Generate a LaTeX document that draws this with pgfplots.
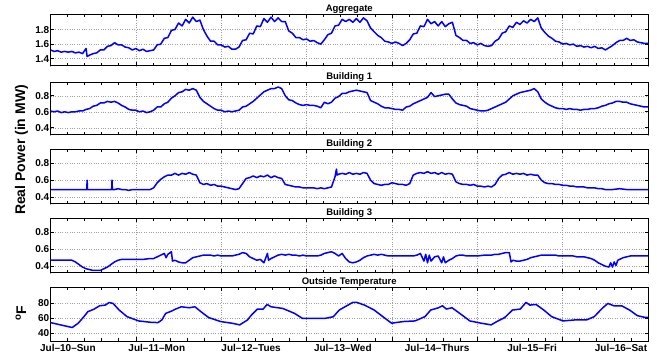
\documentclass[border=0pt]{standalone}
\usepackage{fontspec}
\setmainfont{Liberation Sans}
\usepackage{pgfplots}
\pgfplotsset{compat=1.18}
\pgfplotsset{
  panel/.style={
    scale only axis, width=597.5bp, anchor=south west,
    xmin=0, xmax=168,
    xtick={0,24,...,168}, xticklabels={},
    minor x tick num=4,
    xtick pos=both, ytick pos=both, tick align=inside,
    xticklabel pos=lower, yticklabel pos=left,
    xmajorgrids, ymajorgrids,
    grid style={dotted, gray!75, line width=0.5bp},
    major tick length=3.5bp, minor tick length=2.5bp,
    axis line style={line width=1bp},
    tick style={black, line width=0.6bp},
    tick label style={font=\bfseries\fontsize{10bp}{12bp}\selectfont},
    yticklabel style={inner xsep=1bp},
    title style={font=\bfseries\fontsize{9.5bp}{11bp}\selectfont, anchor=south, inner sep=0pt, yshift=-4.5bp},
    /pgf/number format/assume math mode=true,
  },
  curve/.style={blue, line width=1.5bp, no markers, line join=round},
}
\begin{document}
\begin{tikzpicture}
\useasboundingbox (0,0) rectangle (657bp,355bp);
% Aggregate
\begin{axis}[panel, at={(50.5bp,289bp)}, height=51bp, ymin=1.3, ymax=2.0,
  ytick={1.4,1.6,1.8}, yticklabels={1.4,1.6,1.8}, title={Aggregate}]
\addplot[curve] table[row sep=\\]{h v\\
0 1.52\\1 1.50\\2 1.51\\3 1.49\\4 1.50\\5 1.49\\6 1.50\\7 1.48\\8 1.49\\9 1.47\\10 1.54\\10.3 1.43\\11 1.45\\12 1.47\\13 1.48\\14 1.52\\15 1.52\\16 1.57\\17 1.58\\18 1.62\\19 1.59\\20 1.59\\21 1.56\\22 1.55\\23 1.52\\24 1.54\\25 1.51\\26 1.53\\27 1.50\\28 1.51\\29 1.52\\30 1.59\\31 1.60\\32 1.68\\33 1.69\\34 1.79\\35 1.80\\36 1.89\\37 1.85\\38 1.94\\39 1.89\\40 1.97\\41 1.91\\42 1.93\\43 1.80\\44 1.71\\45 1.64\\46 1.64\\47 1.59\\48 1.59\\49 1.56\\50 1.57\\51 1.53\\52 1.53\\53 1.56\\54 1.65\\55 1.66\\56 1.75\\57 1.74\\58 1.85\\59 1.84\\60 1.95\\61 1.90\\62 1.97\\63 1.91\\64 1.96\\65 1.91\\66 1.91\\67 1.78\\68 1.75\\69 1.69\\70 1.69\\71 1.66\\72 1.67\\73 1.64\\74 1.65\\75 1.62\\76 1.60\\77 1.66\\78 1.73\\79 1.75\\80 1.85\\81 1.86\\82 1.94\\83 1.91\\84 1.94\\85 1.90\\86 1.95\\87 1.90\\88 1.96\\89 1.92\\90 1.82\\91 1.77\\92 1.72\\93 1.69\\94 1.64\\95 1.63\\96 1.61\\97 1.63\\98 1.61\\99 1.58\\100 1.61\\101 1.66\\102 1.74\\103 1.75\\104 1.85\\105 1.84\\106 1.94\\107 1.88\\108 1.91\\109 1.85\\110 1.91\\111 1.84\\112 1.88\\113 1.90\\114 1.72\\115 1.69\\116 1.65\\117 1.65\\118 1.61\\119 1.62\\120 1.59\\121 1.61\\122 1.58\\123 1.57\\124 1.58\\125 1.64\\126 1.67\\127 1.75\\128 1.77\\129 1.85\\130 1.83\\131 1.90\\132 1.87\\133 1.92\\134 1.89\\135 1.94\\136 1.91\\137 1.96\\138 1.82\\139 1.76\\140 1.71\\141 1.68\\142 1.64\\143 1.63\\144 1.60\\145 1.61\\146 1.59\\147 1.60\\148 1.57\\149 1.58\\150 1.56\\151 1.57\\152 1.55\\153 1.57\\154 1.54\\155 1.55\\156 1.52\\157 1.55\\158 1.58\\159 1.62\\160 1.65\\161 1.65\\162 1.68\\163 1.65\\164 1.66\\165 1.63\\166 1.62\\167 1.61\\168 1.61\\
};
\end{axis}
% Building 1
\begin{axis}[panel, at={(50.5bp,220bp)}, height=52bp, ymin=0.31, ymax=0.96,
  ytick={0.4,0.6,0.8}, yticklabels={0.4,0.6,0.8}, title={Building 1}]
\addplot[curve] table[row sep=\\]{h v\\
0 0.61\\1 0.60\\2 0.61\\3 0.59\\4 0.60\\5 0.59\\6 0.60\\7 0.60\\8 0.61\\9 0.61\\10 0.63\\11 0.64\\12 0.67\\13 0.68\\14 0.71\\15 0.71\\16 0.73\\17 0.72\\18 0.73\\19 0.71\\20 0.68\\21 0.66\\22 0.63\\23 0.62\\24 0.62\\25 0.60\\26 0.61\\27 0.59\\28 0.60\\29 0.62\\30 0.66\\31 0.66\\32 0.70\\33 0.72\\34 0.77\\35 0.80\\36 0.84\\37 0.85\\38 0.88\\39 0.87\\40 0.89\\41 0.87\\42 0.78\\43 0.73\\44 0.70\\45 0.67\\46 0.64\\47 0.62\\48 0.62\\49 0.60\\50 0.61\\51 0.60\\52 0.61\\53 0.62\\54 0.66\\55 0.67\\56 0.70\\57 0.73\\58 0.77\\59 0.81\\60 0.85\\61 0.87\\62 0.89\\63 0.89\\64 0.91\\65 0.89\\66 0.80\\67 0.75\\68 0.74\\69 0.71\\70 0.69\\71 0.68\\72 0.69\\73 0.68\\74 0.68\\75 0.67\\76 0.65\\77 0.72\\78 0.70\\79 0.72\\80 0.77\\81 0.79\\82 0.83\\83 0.83\\84 0.85\\85 0.86\\86 0.87\\87 0.86\\88 0.85\\89 0.84\\90 0.74\\91 0.72\\92 0.70\\93 0.67\\94 0.65\\95 0.65\\96 0.64\\97 0.63\\98 0.63\\99 0.62\\100 0.66\\101 0.67\\102 0.70\\103 0.72\\104 0.74\\105 0.76\\106 0.78\\107 0.84\\108 0.79\\109 0.80\\110 0.81\\111 0.82\\112 0.82\\113 0.76\\114 0.71\\115 0.69\\116 0.68\\117 0.67\\118 0.64\\119 0.63\\120 0.62\\121 0.61\\122 0.61\\123 0.62\\124 0.64\\125 0.66\\126 0.68\\127 0.70\\128 0.72\\129 0.76\\130 0.80\\131 0.82\\132 0.84\\133 0.85\\134 0.86\\135 0.87\\136 0.89\\137 0.85\\138 0.76\\139 0.72\\140 0.69\\141 0.67\\142 0.65\\143 0.64\\144 0.64\\145 0.63\\146 0.64\\147 0.63\\148 0.63\\149 0.62\\150 0.63\\151 0.63\\152 0.64\\153 0.64\\154 0.65\\155 0.67\\156 0.68\\157 0.70\\158 0.71\\159 0.73\\160 0.73\\161 0.72\\162 0.72\\163 0.70\\164 0.69\\165 0.68\\166 0.67\\167 0.66\\168 0.66\\
};
\end{axis}
% Building 2
\begin{axis}[panel, at={(50.5bp,151bp)}, height=54bp, ymin=0.32, ymax=0.955,
  ytick={0.4,0.6,0.8}, yticklabels={0.4,0.6,0.8}, title={Building 2}]
\addplot[curve] table[row sep=\\]{h v\\
0 0.49\\2 0.49\\4 0.49\\6 0.49\\8 0.49\\10.2 0.49\\10.3 0.60\\10.4 0.49\\12 0.49\\14 0.49\\17.2 0.49\\17.3 0.60\\17.4 0.49\\18 0.49\\19 0.50\\20 0.49\\21 0.49\\22 0.48\\23 0.49\\24 0.49\\25 0.49\\26 0.49\\27 0.49\\28 0.49\\29 0.51\\30 0.57\\31 0.61\\32 0.64\\33 0.66\\34 0.66\\35 0.68\\36 0.66\\37 0.68\\38 0.67\\39 0.69\\40 0.67\\41 0.66\\42 0.57\\43 0.55\\44 0.56\\45 0.54\\46 0.55\\47 0.53\\48 0.53\\49 0.52\\50 0.51\\51 0.50\\52 0.49\\53 0.50\\54 0.56\\55 0.62\\56 0.63\\57 0.65\\58 0.63\\59 0.65\\60 0.64\\61 0.66\\62 0.63\\63 0.65\\64 0.63\\65 0.62\\66 0.55\\67 0.54\\68 0.53\\69 0.52\\70 0.52\\71 0.51\\72 0.51\\73 0.51\\74 0.51\\75 0.50\\76 0.51\\77 0.50\\78 0.51\\79 0.52\\80 0.64\\80.4 0.73\\80.6 0.66\\81 0.67\\82 0.68\\83 0.67\\84 0.69\\85 0.67\\86 0.68\\87 0.67\\88 0.69\\89 0.68\\90 0.60\\91 0.56\\92 0.55\\93 0.54\\94 0.55\\95 0.55\\96 0.57\\97 0.56\\98 0.55\\99 0.55\\100 0.54\\101 0.56\\102 0.66\\103 0.68\\104 0.69\\105 0.68\\106 0.70\\107 0.68\\108 0.69\\109 0.67\\110 0.69\\111 0.67\\112 0.68\\113 0.67\\114 0.58\\115 0.56\\116 0.55\\117 0.55\\118 0.54\\119 0.55\\120 0.53\\121 0.53\\122 0.52\\123 0.53\\124 0.52\\125 0.55\\126 0.62\\127 0.66\\128 0.67\\129 0.69\\130 0.67\\131 0.68\\132 0.67\\133 0.68\\134 0.66\\135 0.67\\136 0.66\\137 0.66\\138 0.60\\139 0.57\\140 0.56\\141 0.56\\142 0.55\\143 0.55\\144 0.54\\145 0.54\\146 0.53\\147 0.53\\148 0.52\\149 0.52\\150 0.52\\151 0.51\\152 0.51\\153 0.51\\154 0.50\\155 0.50\\156 0.49\\158 0.49\\160 0.50\\162 0.49\\164 0.49\\166 0.49\\168 0.49\\
};
\end{axis}
% Building 3
\begin{axis}[panel, at={(50.5bp,82bp)}, height=54bp, ymin=0.32, ymax=0.955,
  ytick={0.4,0.6,0.8}, yticklabels={0.4,0.6,0.8}, title={Building 3}]
\addplot[curve] table[row sep=\\]{h v\\
0 0.47\\2 0.47\\4 0.47\\6 0.47\\7 0.45\\8 0.42\\9 0.39\\10 0.37\\11 0.36\\12 0.35\\13 0.35\\14 0.35\\15 0.37\\16 0.39\\17 0.42\\18 0.45\\19 0.47\\20 0.48\\22 0.48\\24 0.48\\26 0.48\\28 0.49\\29 0.49\\30 0.51\\31 0.53\\32 0.55\\32.5 0.50\\33 0.54\\34 0.57\\34.3 0.46\\35 0.47\\36 0.45\\37 0.44\\38 0.44\\39 0.47\\40 0.50\\41 0.51\\42 0.52\\43 0.53\\44 0.53\\45 0.53\\46 0.52\\47 0.53\\48 0.52\\49 0.52\\50 0.52\\51 0.52\\52 0.53\\53 0.54\\54 0.56\\55 0.55\\56 0.51\\57 0.49\\58 0.47\\59 0.48\\60 0.44\\61 0.55\\61.3 0.47\\62 0.49\\63 0.51\\64 0.53\\65 0.54\\66 0.53\\67 0.54\\68 0.53\\69 0.53\\70 0.52\\71 0.53\\72 0.52\\73 0.52\\74 0.52\\75 0.52\\76 0.53\\77 0.55\\78 0.56\\79 0.57\\80 0.55\\81 0.52\\82 0.55\\83 0.49\\84 0.45\\85 0.44\\86 0.45\\87 0.47\\88 0.50\\89 0.52\\90 0.53\\91 0.54\\92 0.53\\93 0.54\\94 0.53\\95 0.52\\96 0.52\\98 0.52\\100 0.52\\102 0.52\\103 0.53\\104 0.55\\105 0.46\\105.5 0.54\\106 0.44\\106.5 0.53\\107 0.46\\108 0.51\\109 0.52\\110 0.44\\110.5 0.51\\111 0.44\\112 0.47\\113 0.49\\114 0.52\\115 0.53\\116 0.53\\117 0.52\\118 0.52\\120 0.52\\122 0.53\\124 0.53\\125 0.54\\126 0.54\\127 0.55\\128 0.56\\129 0.56\\129.5 0.45\\130 0.47\\131 0.46\\132 0.46\\133 0.47\\134 0.48\\135 0.50\\136 0.51\\137 0.52\\138 0.53\\140 0.53\\142 0.53\\143 0.52\\145 0.52\\147 0.52\\148 0.51\\150 0.51\\151 0.50\\152 0.49\\153 0.47\\154 0.44\\155 0.42\\156 0.40\\157 0.39\\157.5 0.44\\158 0.39\\158.5 0.45\\159 0.41\\159.5 0.47\\160 0.48\\161 0.50\\162 0.51\\163 0.52\\165 0.52\\168 0.52\\
};
\end{axis}
% Outside temperature
\begin{axis}[panel, at={(50.5bp,14bp)}, height=53bp, ymin=30, ymax=100,
  ytick={40,60,80}, yticklabels={40,60,80}, title={Outside Temperature},
  extra x ticks={4.9,29.9,56.4,82.2,108.7,135.4,160.4},
  extra x tick labels={Jul--10--Sun,Jul--11--Mon,Jul--12--Tues,Jul--13--Wed,Jul--14--Thurs,Jul--15--Fri,Jul--16--Sat},
  extra x tick style={grid=none, major tick length=0pt}]
\addplot[curve] table[row sep=\\]{h v\\
0 54.3\\2.8 51.3\\6.1 47.8\\7.8 53.5\\9.4 62.2\\10.5 68.7\\12.2 72.0\\13.8 76.5\\15.4 77.4\\16.5 80.9\\17.6 79.6\\19.3 70.9\\21.5 62.2\\24.8 56.5\\28 54.8\\30.2 54.3\\31.3 57.8\\32.4 66.5\\34.1 69.6\\35.2 72.2\\36.8 75.2\\39 73.9\\40.6 75.2\\42.3 68.7\\44.5 60.9\\47.8 55.7\\51 53.5\\53.2 51.3\\55.4 57.8\\56.5 64.3\\58.2 72.2\\59.8 72.2\\60.9 78.3\\62 75.2\\65.3 73.0\\68.6 66.5\\70.8 60.0\\74 60.0\\77.3 60.0\\79.5 62.0\\81.2 70.9\\82.8 75.2\\85 81.0\\86.1 81.0\\88.3 77.4\\91 70.9\\93.8 60.9\\95.9 53.5\\99.2 55.7\\102.5 56.5\\105.3 62.2\\106.9 70.9\\109.1 73.9\\110.2 76.5\\111.3 72.2\\112.9 73.9\\115.7 64.3\\117.9 56.5\\121.1 53.5\\123.9 51.3\\125.5 55.7\\127.7 60.9\\129.9 70.9\\132.1 72.2\\133.7 81.0\\134.8 77.4\\136.5 78.3\\138.7 70.9\\140.9 62.2\\144.1 56.5\\147.4 57.8\\150.7 57.8\\152.9 62.2\\155.1 73.0\\156.7 79.6\\158.4 76.5\\160.6 76.5\\162.8 70.9\\165 63.5\\167 61.3\\168 61.3\\
};
\end{axis}
\node[rotate=90, anchor=base, font=\bfseries\fontsize{14bp}{16bp}\selectfont] at (25bp,205bp) {Real Power (in MW)};
\node[rotate=90, anchor=base, font=\bfseries\fontsize{14bp}{16bp}\selectfont] at (26bp,42bp) {\textsuperscript{o}F};
\end{tikzpicture}
\end{document}
